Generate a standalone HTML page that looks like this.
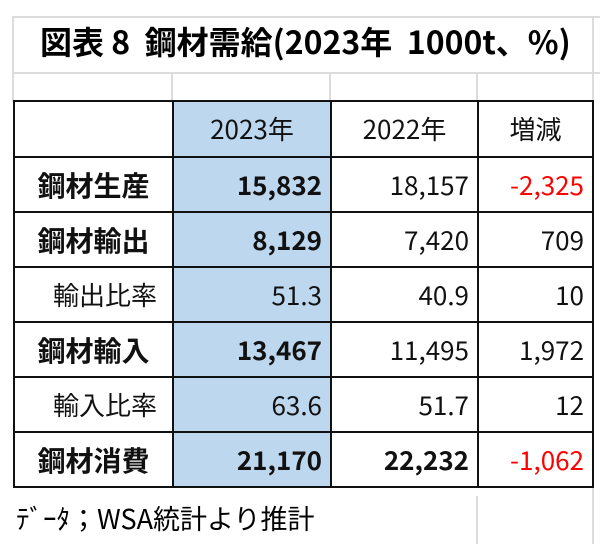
<!DOCTYPE html>
<html><head><meta charset="utf-8"><style>
body{margin:0;width:600px;height:544px;background:#fff;position:relative;overflow:hidden;font-family:"Noto Sans CJK JP",sans-serif;}
.g{position:absolute;background:#dcdcdc}
.t{position:absolute;white-space:nowrap}
table{position:absolute;left:13px;top:100px;border-collapse:collapse;table-layout:fixed;width:579px}
td{border:2px solid #111;height:53px;padding:0 8px;font-size:26px;color:#111;overflow:hidden;white-space:nowrap;line-height:1}
td.l{text-align:center;font-weight:bold;font-size:28px;padding:0}
td.s{text-align:left;font-weight:normal;padding-left:38px;font-size:26px}
td.b{background:#bdd7ee;text-align:right}
td.c{text-align:right}
td.d{text-align:right}
.bo{font-weight:bold}
.r{color:#f00}
</style></head><body>
<div class="g" style="left:12px;top:16px;width:588px;height:2px"></div>
<div class="g" style="left:12px;top:72px;width:588px;height:2px"></div>
<div class="g" style="left:12px;top:16px;width:2px;height:86px"></div>
<div class="g" style="left:171px;top:72px;width:2px;height:30px"></div>
<div class="g" style="left:329px;top:72px;width:2px;height:30px"></div>
<div class="g" style="left:476px;top:72px;width:2px;height:30px"></div>
<div class="g" style="left:592px;top:16px;width:2px;height:528px"></div>
<div class="g" style="left:476px;top:496px;width:2px;height:48px"></div>
<div class="t" style="left:40px;top:22px;font-size:32px;font-weight:bold;line-height:1.2">図表 8&nbsp; 鋼材需給(2023年&nbsp; 1000t、%)</div>
<table>
<colgroup><col style="width:159px"><col style="width:158px"><col style="width:147px"><col style="width:115px"></colgroup>
<tr><td class="l" style="height:54px"></td><td class="b" style="text-align:center">2023年</td><td class="c" style="text-align:center">2022年</td><td class="d" style="text-align:center">増減</td></tr>
<tr><td class="l">鋼材生産</td><td class="b bo">15,832</td><td class="c">18,157</td><td class="d r">-2,325</td></tr>
<tr><td class="l">鋼材輸出</td><td class="b bo">8,129</td><td class="c">7,420</td><td class="d">709</td></tr>
<tr><td class="l s">輸出比率</td><td class="b">51.3</td><td class="c">40.9</td><td class="d">10</td></tr>
<tr><td class="l">鋼材輸入</td><td class="b bo">13,467</td><td class="c">11,495</td><td class="d">1,972</td></tr>
<tr><td class="l s">輸入比率</td><td class="b">63.6</td><td class="c">51.7</td><td class="d">12</td></tr>
<tr><td class="l">鋼材消費</td><td class="b bo">21,170</td><td class="c bo">22,232</td><td class="d r">-1,062</td></tr>
</table>
<div class="t" style="left:16px;top:502px;font-size:27px;line-height:1.2">ﾃﾞｰﾀ；WSA統計より推計</div>
</body></html>
